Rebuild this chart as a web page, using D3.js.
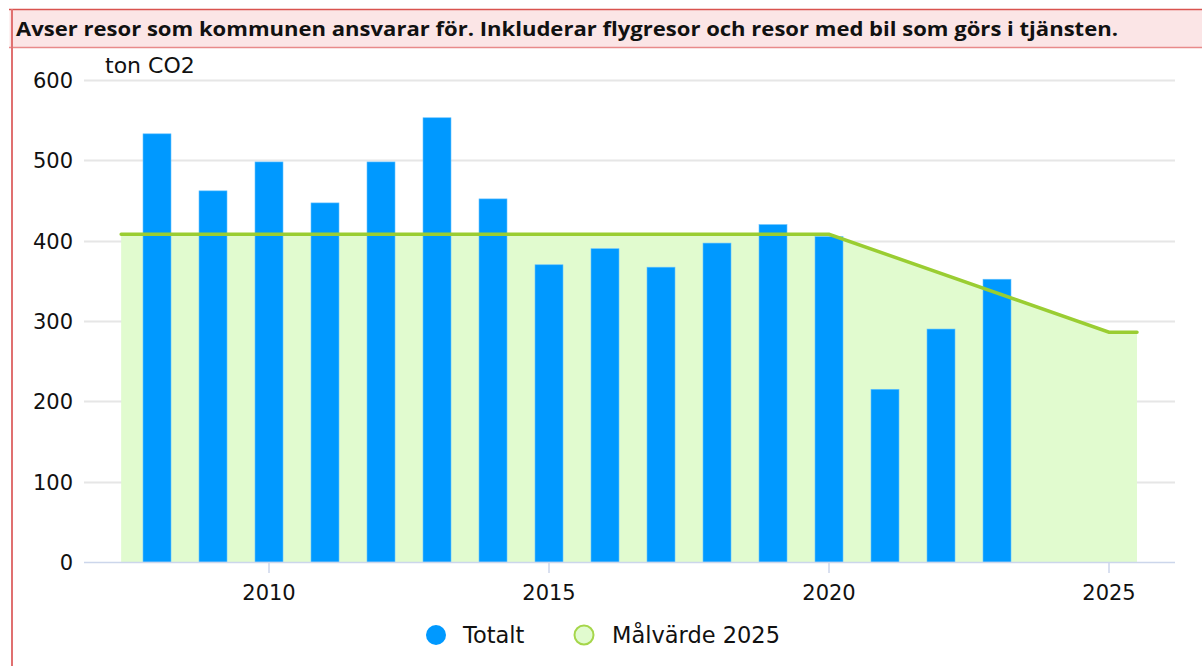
<!DOCTYPE html>
<html>
<head>
<meta charset="utf-8">
<script src="https://cdn.jsdelivr.net/npm/d3@7"></script>
<style>
  body { margin: 0; background: #fff; }
  svg { display: block; }
  text { font-family: "DejaVu Sans", sans-serif; fill: #111; }
</style>
</head>
<body>
<div id="chart"></div>
<script>
var title = "Avser resor som kommunen ansvarar för. Inkluderar flygresor och resor med bil som görs i tjänsten.";
var years = [2008, 2009, 2010, 2011, 2012, 2013, 2014, 2015, 2016, 2017, 2018, 2019, 2020, 2021, 2022, 2023];
var totalt = [533, 462, 498, 447, 498, 553, 452, 370, 390, 367, 397, 420, 405, 215, 290, 352];
var targetYears = [2007.36, 2020, 2025, 2025.5];
var targetValues = [408, 408, 286, 286];
var yTicks = [0, 100, 200, 300, 400, 500, 600];
var xTicks = [2010, 2015, 2020, 2025];
var legendNames = ["Totalt", "Målvärde 2025"];

var W = 1202, H = 666;
var svg = d3.select("#chart").append("svg").attr("width", W).attr("height", H);

// header box + frame
svg.append("rect").attr("x", 9.5).attr("y", 9.5).attr("width", 1200).attr("height", 38)
  .attr("fill", "#fbe5e6").attr("stroke", "none");
svg.append("line").attr("x1", 9).attr("x2", 1202).attr("y1", 9.5).attr("y2", 9.5)
  .attr("stroke", "#d9534f").attr("stroke-width", 1.5);
svg.append("line").attr("x1", 9).attr("x2", 1202).attr("y1", 47.5).attr("y2", 47.5)
  .attr("stroke", "#e88a8a").attr("stroke-width", 1.5);
svg.append("line").attr("x1", 12).attr("x2", 12).attr("y1", 9).attr("y2", H)
  .attr("stroke", "#e07070").attr("stroke-width", 2);
svg.append("text").attr("x", 16).attr("y", 36)
  .attr("textLength", 1102).attr("lengthAdjust", "spacingAndGlyphs")
  .style("font-family", "'Open Sans', sans-serif").style("font-weight", "bold")
  .style("font-size", "20px").text(title);

var x = d3.scaleLinear().domain([2010, 2025]).range([269, 1109]);
var y = d3.scaleLinear().domain([0, 600]).range([562, 80]);

// grid
svg.append("g").selectAll("line").data(yTicks.filter(function(d){ return d > 0; })).enter().append("line")
  .attr("x1", 84).attr("x2", 1175)
  .attr("y1", function(d){ return Math.round(y(d)) + 0.5; })
  .attr("y2", function(d){ return Math.round(y(d)) + 0.5; })
  .attr("stroke", "#e6e6e6").attr("stroke-width", 2);

// target area + line
var pts = targetYears.map(function(d, i){ return [d, targetValues[i]]; });
svg.append("path").datum(pts)
  .attr("d", d3.area().x(function(d){ return x(d[0]); }).y0(y(0)).y1(function(d){ return y(d[1]); }))
  .attr("fill", "#e1fbcf");

// bars
var bw = 28;
svg.append("g").selectAll("rect").data(years).enter().append("rect")
  .attr("x", function(d){ return x(d) - bw / 2; })
  .attr("y", function(d, i){ return y(totalt[i]); })
  .attr("width", bw)
  .attr("height", function(d, i){ return y(0) - y(totalt[i]); })
  .attr("fill", "#0099ff").attr("stroke", "#66c2ff").attr("stroke-width", 0.6);

svg.append("path").datum(pts)
  .attr("d", d3.line().x(function(d){ return x(d[0]); }).y(function(d){ return y(d[1]); }))
  .attr("fill", "none").attr("stroke", "#9acd32").attr("stroke-width", 3.5)
  .attr("stroke-linecap", "round");

// x axis
svg.append("line").attr("x1", 84).attr("x2", 1175).attr("y1", 562.5).attr("y2", 562.5)
  .attr("stroke", "#ccd6eb").attr("stroke-width", 1.5);
var xa = svg.append("g").selectAll("g").data(xTicks).enter().append("g");
xa.append("line").attr("x1", function(d){ return x(d); }).attr("x2", function(d){ return x(d); })
  .attr("y1", 563).attr("y2", 573).attr("stroke", "#ccd6eb").attr("stroke-width", 1.5);
xa.append("text").attr("x", function(d){ return x(d); }).attr("y", 600)
  .attr("text-anchor", "middle").style("font-size", "21px").text(function(d){ return d; });

// y labels
svg.append("g").selectAll("text").data(yTicks).enter().append("text")
  .attr("x", 73).attr("y", function(d){ return y(d) + 8; })
  .attr("text-anchor", "end").style("font-size", "21px").text(function(d){ return d; });

svg.append("text").attr("x", 105).attr("y", 73).style("font-size", "22px").text("ton CO2");

// legend
var lg = svg.append("g");
lg.append("circle").attr("cx", 436).attr("cy", 635).attr("r", 10).attr("fill", "#0099ff");
lg.append("text").attr("x", 463).attr("y", 643).style("font-size", "22.5px").text(legendNames[0]);
lg.append("circle").attr("cx", 584).attr("cy", 635).attr("r", 9.5)
  .attr("fill", "#e1fbcf").attr("stroke", "#a5d64a").attr("stroke-width", 2);
lg.append("text").attr("x", 612).attr("y", 643).style("font-size", "22.5px").text(legendNames[1]);
</script>
</body>
</html>
